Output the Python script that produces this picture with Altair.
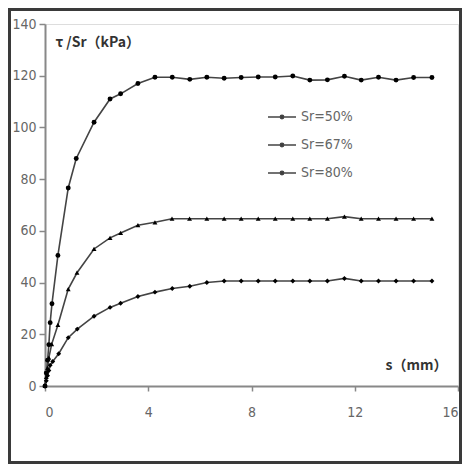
import altair as alt
import pandas as pd

s50 = [0, 0.05, 0.1, 0.15, 0.2, 0.27, 0.5, 0.9, 1.21, 1.9, 2.52, 2.93, 3.6, 4.26, 4.93, 5.61, 6.27, 6.94,
       7.6, 8.26, 8.92, 9.6, 10.26, 10.94, 11.6, 12.25, 12.92, 13.6, 14.28, 14.99]
t50 = [0, 5, 10, 16, 24.5, 31.8, 50.5, 76.6, 88, 102, 111, 113, 117, 119.4, 119.4, 118.6, 119.4, 119,
       119.3, 119.5, 119.5, 119.9, 118.3, 118.4, 119.8, 118.3, 119.4, 118.3, 119.3, 119.3]

s67 = [0, 0.05, 0.1, 0.15, 0.26, 0.5, 0.9, 1.24, 1.9, 2.52, 2.93, 3.6, 4.26, 4.92, 5.6, 6.27, 6.94,
       7.6, 8.26, 8.92, 9.6, 10.26, 10.94, 11.6, 12.25, 12.92, 13.6, 14.28, 14.99]
t67 = [0, 3.5, 7, 11, 16.2, 23.6, 37.5, 43.8, 53, 57.3, 59.2, 62.2, 63.3, 64.7, 64.7, 64.7, 64.7,
       64.7, 64.7, 64.7, 64.7, 64.7, 64.7, 65.5, 64.7, 64.7, 64.7, 64.7, 64.7]

s80 = [0, 0.05, 0.1, 0.15, 0.2, 0.3, 0.53, 0.9, 1.25, 1.9, 2.52, 2.93, 3.6, 4.26, 4.93, 5.61, 6.27, 6.94,
       7.6, 8.26, 8.92, 9.6, 10.26, 10.94, 11.6, 12.25, 12.92, 13.6, 14.28, 14.99]
t80 = [0, 2, 4, 6, 8, 9.5, 12.5, 18.7, 22, 27, 30.4, 32, 34.6, 36.3, 37.7, 38.6, 40, 40.6,
       40.6, 40.6, 40.6, 40.6, 40.6, 40.6, 41.6, 40.6, 40.6, 40.6, 40.6, 40.6]

series = ["Sr=50%", "Sr=67%", "Sr=80%"]
shapes = ["circle", "triangle-up", "diamond"]

rows = []
for name, xs, ys in zip(series, [s50, s67, s80], [t50, t67, t80]):
    for i, (a, b) in enumerate(zip(xs, ys)):
        rows.append({"s": a, "tau": b, "series": name, "order": i})
df = pd.DataFrame(rows)

FONT = "DejaVu Sans Condensed, DejaVu Sans"
CJK = "Noto Sans CJK SC"

sym = "M-1,0L1,0M0,-0.12A0.12,0.12 0 1,1 0,0.12A0.12,0.12 0 1,1 0,-0.12Z"

x_enc = alt.X("s:Q", scale=alt.Scale(domain=[0, 16], nice=False),
              axis=alt.Axis(values=[0, 4, 8, 12, 16], grid=False, title="s（mm）",
                            titleAngle=0, titleAlign="left", titleBaseline="middle",
                            titleX=340, titleY=-21, titleFont=CJK, titleFontSize=14,
                            titleFontWeight="bold", titleColor="#333",
                            labelFont=FONT, labelFontSize=14, labelColor="#666",
                            labelPadding=14, tickSize=5, tickColor="#888", domainColor="#888",
                            domainWidth=2, tickWidth=1.5))
y_enc = alt.Y("tau:Q", scale=alt.Scale(domain=[0, 140], nice=False),
              axis=alt.Axis(values=[0, 20, 40, 60, 80, 100, 120, 140], grid=False,
                            title="τ /Sr（kPa）", titleAngle=0, titleAlign="left",
                            titleBaseline="middle", titleX=10, titleY=18, titleFont=CJK,
                            titleFontSize=14, titleFontWeight="bold", titleColor="#333",
                            labelFont=FONT, labelFontSize=14, labelColor="#666",
                            labelPadding=3, tickSize=6, tickColor="#888", domainColor="#888",
                            domainWidth=2, tickWidth=1.5))

lines = alt.Chart(df).mark_line(strokeWidth=1.6).encode(
    x=x_enc, y=y_enc, order="order:Q",
    color=alt.Color("series:N",
                    scale=alt.Scale(domain=series, range=["#444", "#444", "#444"]),
                    legend=alt.Legend(title=None, orient="none", legendX=222, legendY=78,
                                      symbolType=sym, symbolSize=784, symbolStrokeWidth=1.6,
                                      symbolStrokeColor="#444", symbolFillColor="#000",
                                      labelFont=FONT, labelFontSize=14, labelColor="#666",
                                      labelOffset=4, rowPadding=6, padding=0)),
)

point_layers = [
    alt.Chart(df).transform_filter(alt.datum.series == name)
    .mark_point(filled=True, size=24, color="#000", opacity=1, shape=shp)
    .encode(x="s:Q", y="tau:Q")
    for name, shp in zip(series, shapes)
]

frame = alt.Chart(pd.DataFrame({"k": [0]})).mark_rect(
    fill=None, stroke="#3a3a3a", strokeWidth=3).encode(
    x=alt.value(-35.5), x2=alt.value(415.5), y=alt.value(-14.5), y2=alt.value(438.5))

chart = alt.layer(lines, *point_layers, frame).properties(
    width=413, height=362,
    autosize=alt.AutoSizeParams(type="none"),
    padding={"left": 37, "top": 16, "right": 4, "bottom": 78},
).configure_view(stroke=None).configure(background="white")

chart.save("out.html", embed_options={"renderer": "svg", "actions": False})
